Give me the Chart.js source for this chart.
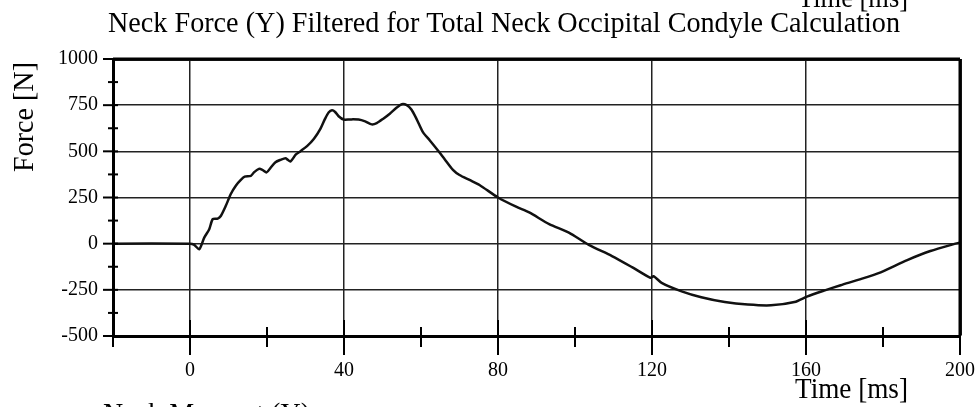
<!DOCTYPE html>
<html>
<head>
<meta charset="utf-8">
<script src="https://cdn.jsdelivr.net/npm/chart.js@4.4.1/dist/chart.umd.min.js"></script>
<style>
  html, body { margin: 0; padding: 0; background: #fff; }
  canvas { display: block; }
</style>
</head>
<body>
<canvas id="neckForceChart" width="978" height="407"></canvas>
<script>
// Neck force Fy, filtered for the occipital condyle calculation
const timeMs = [
    -20, 0, 1, 2.4, 3.7, 5, 5.9, 7.2, 8, 9.3, 10.6, 11.9, 13.2, 14.2, 15.8, 16.6,
    17.9, 18.8, 19.9, 20.9, 22.2, 23.5, 24.8, 25.4, 26.1, 27.5, 28.7, 30.4, 32.2,
    33.9, 35.1, 36.0, 36.9, 37.7, 38.6, 39.9, 41.6, 43.8, 45.5, 47.2, 48.5, 50.2,
    51.9, 53.7, 55.0, 56.3, 57.5, 58.8, 60.5, 62.3, 64.4, 66.1, 68.3, 70.0, 72.6,
    75.2, 80, 84.7, 88.1, 93.3, 98.4, 103.6, 109.6, 114.8, 119.6, 120.4, 122.5,
    127.7, 132.8, 138.9, 144.9, 150.9, 157.0, 160.4, 164.7, 169.0, 174.2, 179.4,
    186.3, 192.3, 198.8, 200
];
const forceN = [
    0, 0, -5, -30, 33, 78, 133, 136, 150, 205, 269, 314, 345, 363, 367, 386,
    405, 400, 386, 410, 441, 454, 463, 454, 445, 483, 501, 528, 568,
    623, 677, 710, 722, 713, 690, 672, 673, 672, 662, 646, 653, 677,
    704, 737, 755, 750, 726, 677, 604, 559, 505, 459, 400, 372, 345,
    318, 250, 200, 169, 106, 60, -7, -67, -127, -185, -176, -212,
    -258, -290, -316, -330, -334, -316, -285, -254, -225, -192, -155,
    -89, -40, 0, 6
];

const xMajorTicks = [0, 40, 80, 120, 160, 200];
const yTicks = [-500, -250, 0, 250, 500, 750, 1000];

const chartTitle = 'Neck Force (Y) Filtered for Total Neck Occipital Condyle Calculation';
const xTitle = 'Time [ms]';
const yTitle = 'Force [N]';
const nextChartTitle = 'Neck Moment (Y)';

const SERIF = "'Liberation Serif', 'Times New Roman', serif";

// draw text squeezed horizontally to a given width (the old plot font is narrow)
function fitText(ctx, text, x, y, size, width, align) {
    ctx.save();
    ctx.font = size + 'px ' + SERIF;
    ctx.textBaseline = 'alphabetic';
    ctx.textAlign = 'left';
    const natural = ctx.measureText(text).width;
    const sx = width / natural;
    let left = x;
    if (align === 'center') left = x - width / 2;
    if (align === 'right') left = x - width;
    ctx.translate(left, y);
    ctx.scale(sx, 1);
    ctx.fillStyle = '#000';
    ctx.fillText(text, 0, 0);
    ctx.restore();
}

// titles, axis names and the minor tick marks
const plotDecor = {
    id: 'plotDecor',
    afterDraw(chart) {
        const { ctx, chartArea: { left, right, top, bottom } } = chart;
        const xs = chart.scales.x;
        const ys = chart.scales.y;

        ctx.save();
        ctx.strokeStyle = '#000';
        ctx.lineCap = 'butt';

        // top and right frame
        ctx.lineWidth = 3;
        ctx.beginPath();
        ctx.moveTo(left, top);
        ctx.lineTo(right, top);
        ctx.moveTo(right, top);
        ctx.lineTo(right, bottom);
        ctx.stroke();

        // y axis tick marks every 125 N
        ctx.lineWidth = 2;
        for (let v = -500; v <= 1000; v += 125) {
            const py = ys.getPixelForValue(v);
            const major = yTicks.includes(v);
            ctx.beginPath();
            ctx.moveTo(left - (major ? 10 : 5), py);
            ctx.lineTo(left + 5, py);
            ctx.stroke();
        }

        // x axis tick marks every 20 ms
        for (let v = -20; v <= 200; v += 20) {
            const px = xs.getPixelForValue(v);
            const major = xMajorTicks.includes(v);
            ctx.beginPath();
            ctx.moveTo(px, bottom - (major ? 16 : 9));
            ctx.lineTo(px, bottom + (major ? 19 : 11));
            ctx.stroke();
        }
        ctx.restore();

        fitText(ctx, chartTitle, 504, 32, 29, 792, 'center');
        fitText(ctx, xTitle, 795, 398, 30, 113, 'left');
        // previous and next plot on the sheet
        fitText(ctx, xTitle, 798, 7, 30, 110, 'left');
        fitText(ctx, nextChartTitle, 103, 423, 30, 207, 'left');

        ctx.save();
        ctx.translate(33, 117);
        ctx.rotate(-Math.PI / 2);
        fitText(ctx, yTitle, 0, 0, 30, 110, 'center');
        ctx.restore();
    }
};

const ctx = document.getElementById('neckForceChart');

new Chart(ctx, {
    type: 'line',
    data: {
        datasets: [{
            data: timeMs.map((t, i) => ({ x: t, y: forceN[i] })),
            borderColor: '#111',
            borderWidth: 2.5,
            pointRadius: 0,
            tension: 0.25,
            fill: false
        }]
    },
    options: {
        responsive: false,
        animation: false,
        layout: { padding: { top: 59, right: 18, left: 0, bottom: 0 } },
        plugins: {
            legend: { display: false },
            title: { display: false },
            tooltip: { enabled: false }
        },
        scales: {
            x: {
                type: 'linear',
                min: -20,
                max: 200,
                afterFit: s => { s.height = 71; s.paddingLeft = 0; s.paddingRight = 0; },
                ticks: {
                    stepSize: 20,
                    autoSkip: false,
                    maxRotation: 0,
                    padding: 23,
                    color: '#000',
                    font: { family: SERIF, size: 20 },
                    callback: v => xMajorTicks.includes(v) ? v : ''
                },
                grid: {
                    drawTicks: false,
                    color: c => xMajorTicks.includes(c.tick.value) ? '#222' : 'rgba(0,0,0,0)',
                    lineWidth: c => c.tick.value === 200 ? 3 : 1.5
                },
                border: { display: true, color: '#000', width: 3 }
            },
            y: {
                min: -500,
                max: 1000,
                afterFit: s => { s.width = 113; s.paddingTop = 0; s.paddingBottom = 0; },
                ticks: {
                    stepSize: 250,
                    padding: 15,
                    color: '#000',
                    font: { family: SERIF, size: 20 },
                    callback: v => v
                },
                grid: {
                    drawTicks: false,
                    color: '#222',
                    lineWidth: c => c.tick.value === 1000 ? 3 : 1.5
                },
                border: { display: true, color: '#000', width: 3 }
            }
        }
    },
    plugins: [plotDecor]
});
</script>
</body>
</html>
